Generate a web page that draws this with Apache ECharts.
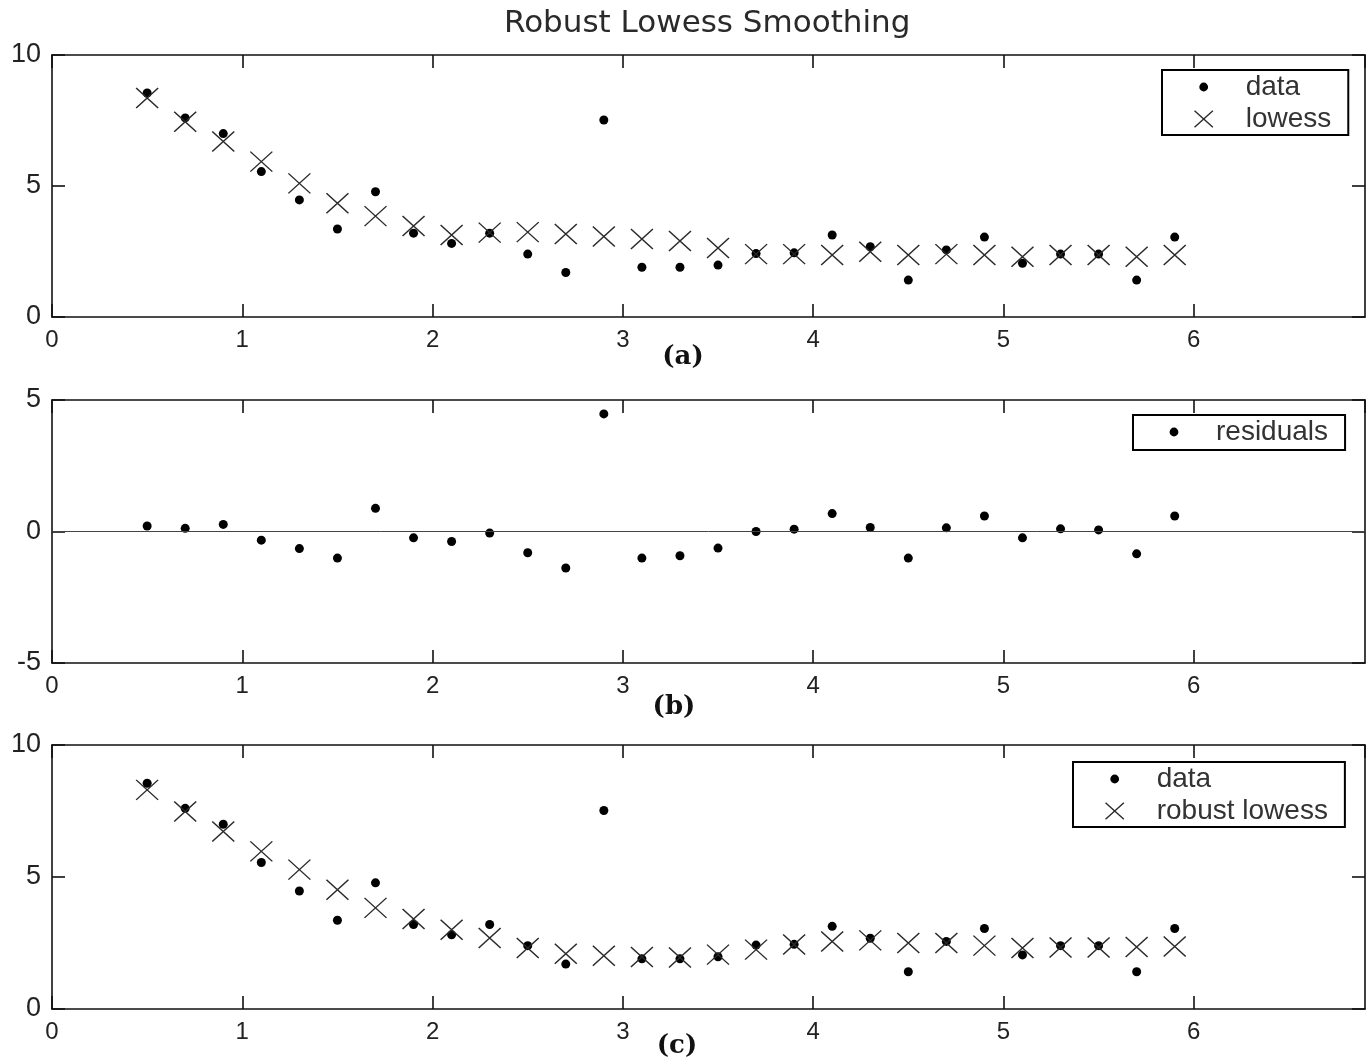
<!DOCTYPE html>
<html>
<head>
<meta charset="utf-8">
<script src="https://cdn.jsdelivr.net/npm/echarts@6.0.0/dist/echarts.min.js"></script>
<style>
html,body{margin:0;padding:0;background:#fff;}
#chart{width:1369px;height:1061px;}
</style>
</head>
<body>
<div id="chart"></div>
<script>
// ---- data ----
const xValues = [0.5,0.7,0.9,1.1,1.3,1.5,1.7,1.9,2.1,2.3,2.5,2.7,2.9,3.1,3.3,3.5,3.7,3.9,4.1,4.3,4.5,4.7,4.9,5.1,5.3,5.5,5.7,5.9];
const dataY = [8.55,7.6,7.0,5.55,4.47,3.36,4.78,3.2,2.81,3.2,2.4,1.7,7.52,1.9,1.9,1.98,2.42,2.45,3.13,2.68,1.41,2.56,3.05,2.05,2.4,2.4,1.41,3.05];
const lowessY = [8.36,7.45,6.7,5.93,5.1,4.34,3.85,3.47,3.13,3.22,3.24,3.17,3.07,2.98,2.9,2.63,2.4,2.4,2.37,2.49,2.37,2.4,2.37,2.3,2.37,2.37,2.3,2.37];
const residualY = [0.21,0.12,0.27,-0.33,-0.65,-1.01,0.88,-0.24,-0.38,-0.06,-0.81,-1.39,4.47,-1.01,-0.92,-0.63,0.0,0.09,0.68,0.15,-1.01,0.14,0.59,-0.24,0.1,0.06,-0.85,0.59];
const robustY = [8.3,7.48,6.72,5.97,5.28,4.52,3.83,3.41,3.0,2.69,2.31,2.09,2.02,1.97,1.95,2.06,2.25,2.44,2.56,2.6,2.5,2.5,2.4,2.31,2.33,2.33,2.35,2.37];
const xTicks = {min: 0, max: 6.9, interval: 1};
const yRanges = [{min: 0, max: 10, interval: 5}, {min: -5, max: 5, interval: 5}, {min: 0, max: 10, interval: 5}];
const panelLabels = ['(a)', '(b)', '(c)'];
const titleText = 'Robust Lowess Smoothing';

// ---- build ----
const pair = ys => xValues.map((x, i) => [x, ys[i]]);
const frameColor = '#111';
const grids = [
  {left: 52, top: 55, width: 1313, height: 262},
  {left: 52, top: 400, width: 1313, height: 263},
  {left: 52, top: 745, width: 1313, height: 264}
];
const xAxes = [], yAxes = [];
grids.forEach((g, i) => {
  const common = {
    type: 'value', gridIndex: i,
    axisLine: {show: true, onZero: false, lineStyle: {color: frameColor, width: 1.6}},
    axisTick: {show: true, inside: true, length: 13, lineStyle: {color: frameColor, width: 1.6}},
    splitLine: {show: false}
  };
  xAxes.push(Object.assign({}, common, xTicks, {position: 'bottom',
    axisLabel: {show: true, fontFamily: 'Liberation Sans', fontSize: 24, color: '#222', margin: 11, showMaxLabel: false}}));
  xAxes.push(Object.assign({}, common, xTicks, {position: 'top', axisLabel: {show: false}}));
  yAxes.push(Object.assign({}, common, yRanges[i], {position: 'left',
    axisLabel: {show: true, fontFamily: 'Liberation Sans', fontSize: 27, color: '#222', margin: 11}}));
  yAxes.push(Object.assign({}, common, yRanges[i], {position: 'right', axisLabel: {show: false}}));
});

const xSymbol = 'path://M0 0L10 10M10 0L0 10';
const dotIcon = 'path://M0 0L0 0M20 20L20 20M10 6A4 4 0 1 1 10 14A4 4 0 1 1 10 6Z';
const xIcon = 'path://M0 0L0 0M12 12L12 12M1 1.5L11 10.5M11 1.5L1 10.5';

const dotSeries = (name, ys, axisIdx) => ({
  type: 'scatter', name, xAxisIndex: axisIdx, yAxisIndex: axisIdx,
  data: pair(ys), symbol: 'circle', symbolSize: 9,
  itemStyle: {color: '#000', borderWidth: 0, opacity: 1}, z: 3
});
const xSeries = (name, ys, axisIdx) => ({
  type: 'scatter', name, xAxisIndex: axisIdx, yAxisIndex: axisIdx,
  data: pair(ys), symbol: xSymbol, symbolSize: [22, 20],
  itemStyle: {color: 'rgba(0,0,0,0)', borderColor: '#2a2a2a', borderWidth: 1.4, opacity: 1}, z: 4
});

const residSeries = dotSeries('residuals', residualY, 2);
residSeries.markLine = {
  silent: true, symbol: ['none', 'none'], label: {show: false},
  lineStyle: {color: '#444', width: 1, type: 'solid'},
  data: [{yAxis: 0}]
};

const legendBase = {
  orient: 'vertical', itemWidth: 74, itemHeight: 22, itemGap: 4,
  padding: [3, 17, 2, 30], borderColor: '#000', borderWidth: 2,
  backgroundColor: '#fff', selectedMode: false,
  textStyle: {fontFamily: 'Liberation Sans', fontSize: 28, color: '#333'}
};
const dotItem = name => ({name, icon: dotIcon, itemStyle: {borderWidth: 0}});
const xItem = name => ({name, icon: xIcon, itemStyle: {borderWidth: 1.4, borderColor: '#2a2a2a'}});

const option = {
  animation: false,
  backgroundColor: '#fff',
  title: [{
    text: titleText, left: 499, top: 3,
    textStyle: {fontFamily: 'DejaVu Sans', fontSize: 31, fontWeight: 'normal', color: '#2a2a2a'}
  }],
  grid: grids,
  xAxis: xAxes,
  yAxis: yAxes,
  legend: [
    Object.assign({}, legendBase, {left: 1162, top: 70, data: [dotItem('data'), xItem('lowess')]}),
    Object.assign({}, legendBase, {left: 1133, top: 415, padding: [3, 17, 4, 30], data: [dotItem('residuals')]}),
    Object.assign({}, legendBase, {left: 1073, top: 762, data: [dotItem('data'), xItem('robust lowess')]})
  ],
  graphic: [
    {type: 'text', x: 683, y: 357, style: {text: panelLabels[0], font: 'bold 26px "DejaVu Serif"', fill: '#111', align: 'center', verticalAlign: 'middle'}},
    {type: 'text', x: 674, y: 707, style: {text: panelLabels[1], font: 'bold 26px "DejaVu Serif"', fill: '#111', align: 'center', verticalAlign: 'middle'}},
    {type: 'text', x: 677, y: 1046, style: {text: panelLabels[2], font: 'bold 26px "DejaVu Serif"', fill: '#111', align: 'center', verticalAlign: 'middle'}}
  ],
  series: [
    dotSeries('data', dataY, 0),
    xSeries('lowess', lowessY, 0),
    residSeries,
    dotSeries('data', dataY, 4),
    xSeries('robust lowess', robustY, 4)
  ]
};
const chart = echarts.init(document.getElementById('chart'));
chart.setOption(option);
</script>
</body>
</html>
